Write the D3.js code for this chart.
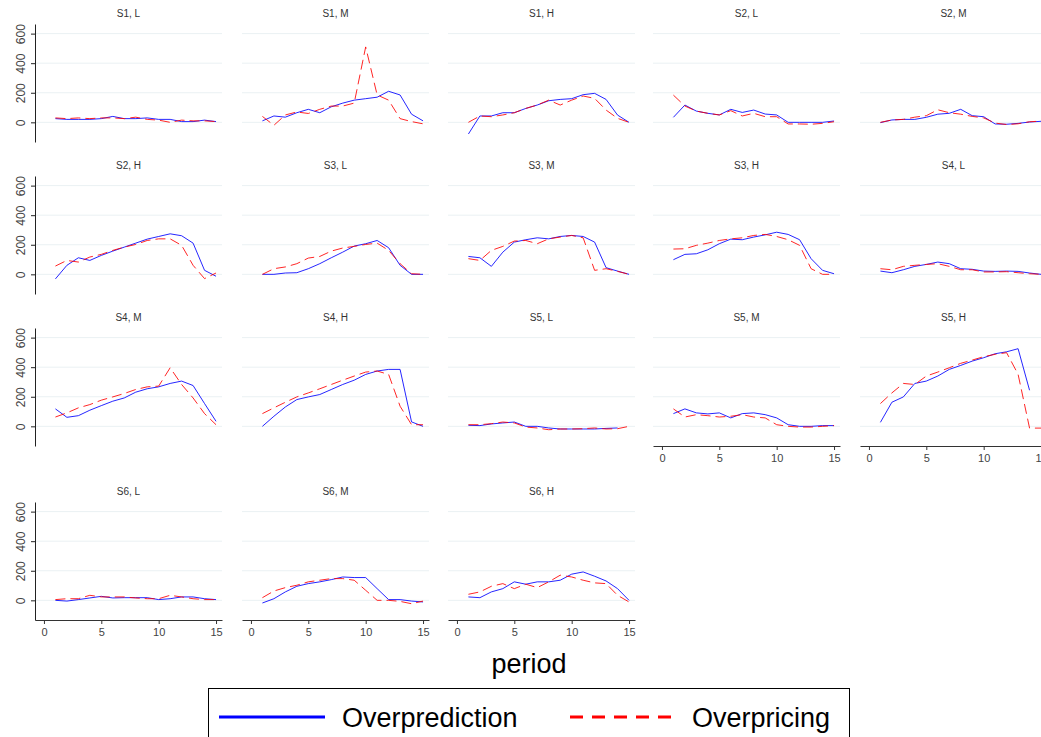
<!DOCTYPE html>
<html>
<head>
<meta charset="utf-8">
<script src="https://cdn.jsdelivr.net/npm/d3@7"></script>
<style>
  body { margin: 0; background: #fff; }
  svg { font-family: "Liberation Sans", Arial, sans-serif; }
</style>
</head>
<body>
<div id="chart"></div>
<script>
// panel labels, in reading order
const panels = ["S1, L", "S1, M", "S1, H", "S2, L", "S2, M",
                "S2, H", "S3, L", "S3, M", "S3, H", "S4, L",
                "S4, M", "S4, H", "S5, L", "S5, M", "S5, H",
                "S6, L", "S6, M", "S6, H"];

const periods = d3.range(1, 16);
const xTicks = [0, 5, 10, 15];
const yTicks = [0, 200, 400, 600];

// Overprediction (blue, solid) per panel
const overprediction = [
  [25, 20, 20, 20, 25, 40, 25, 25, 30, 20, 20, 5, 5, 15, 5],
  [10, 43, 35, 65, 88, 65, 105, 130, 150, 160, 170, 210, 185, 55, 10],
  [-79, 43, 43, 65, 65, 94, 117, 146, 155, 160, 187, 196, 155, 49, 0],
  [34, 117, 76, 61, 50, 88, 67, 83, 56, 50, 0, 0, 0, 0, 9],
  [-2, 16, 20, 20, 34, 55, 61, 88, 45, 38, -11, -13, -7, 2, 7],
  [-31, 61, 112, 94, 128, 157, 184, 211, 238, 256, 274, 261, 211, 27, -13],
  [0, 0, 9, 11, 38, 72, 112, 150, 191, 207, 229, 180, 61, 0, 0],
  [121, 112, 54, 150, 218, 234, 247, 240, 256, 263, 256, 218, 45, 22, 0],
  [99, 135, 139, 166, 207, 238, 234, 252, 267, 285, 270, 234, 106, 27, 4],
  [22, 11, 31, 54, 67, 83, 72, 38, 34, 22, 20, 22, 20, 9, 0],
  [118, 61, 72, 109, 140, 170, 192, 231, 254, 267, 290, 306, 276, 154, 34],
  [0, 68, 131, 181, 199, 215, 249, 283, 312, 351, 374, 385, 385, 30, 0],
  [7, 5, 16, 23, 29, 0, 0, -11, -18, -18, -18, -18, -14, -11, null],
  [86, 118, 91, 84, 91, 57, 86, 91, 79, 57, 11, 0, 0, 5, 5],
  [27, 163, 199, 290, 306, 340, 385, 412, 441, 464, 491, 504, 525, 244, null],
  [0, -5, 5, 16, 27, 16, 18, 18, 18, 5, 11, 23, 23, 11, 5],
  [-18, 11, 57, 95, 113, 125, 140, 158, 154, 154, 79, 5, 5, -5, -11],
  [23, 18, 57, 79, 125, 109, 125, 125, 136, 177, 192, 163, 131, 79, 0]
];

// Overpricing (red, dashed) per panel
const overpricing = [
  [30, 25, 30, 25, 30, 30, 25, 35, 20, 15, 0, 15, 10, 10, 5],
  [40, -20, 50, 70, 60, 88, 110, 110, 130, 510, 185, 150, 25, 5, -10],
  [0, 43, 38, 50, 65, 94, 117, 150, 117, 150, 178, 162, 83, 27, 0],
  [184, 110, 76, 61, 50, 79, 43, 61, 38, 38, -11, -11, -13, -7, 4],
  [0, 16, 20, 35, 45, 85, 65, 55, 40, 30, -5, -15, -10, 4, 8],
  [56, 94, 83, 117, 135, 162, 184, 202, 229, 240, 240, 196, 61, -29, 9],
  [0, 38, 50, 72, 110, 121, 157, 178, 189, 202, 211, 162, 72, 4, 0],
  [106, 94, 162, 189, 225, 229, 207, 240, 252, 263, 247, 27, 38, 20, 0],
  [171, 173, 196, 211, 229, 240, 247, 263, 270, 256, 234, 196, 38, 0, 0],
  [38, 31, 54, 61, 67, 72, 54, 31, 31, 16, 16, 18, 11, 4, 0],
  [63, 91, 125, 147, 177, 199, 222, 249, 267, 272, 396, 283, 192, 86, 11],
  [86, 125, 163, 199, 226, 254, 283, 312, 340, 367, 374, 351, 136, 11, 11],
  [11, 11, 18, 29, 23, -5, -11, -23, -18, -18, -16, -11, -18, -16, 0],
  [118, 63, 79, 72, 63, 68, 79, 63, 57, 11, 0, -5, -5, 0, 5],
  [154, 226, 290, 283, 340, 367, 396, 426, 448, 471, 487, 498, 352, -12, -12],
  [5, 11, 11, 34, 23, 23, 23, 16, 11, 11, 34, 23, 11, 5, 5],
  [18, 63, 86, 102, 125, 136, 147, 147, 136, 68, 0, 0, -7, -23, -5],
  [41, 57, 95, 113, 79, 109, 86, 125, 170, 158, 136, 118, 113, 34, -11]
];

const width = 1041, height = 737;
const colX = [35, 242, 448, 653, 860];
const rowTop = [24, 176, 328, 502];
const plotW = 187, plotH = 118;

const svg = d3.select("#chart").append("svg")
  .attr("width", width)
  .attr("height", height);

const x = d3.scaleLinear().domain([-0.78, 15.52]).range([0, plotW]);
const y = d3.scaleLinear().domain([-133, 665]).range([plotH, 0]);

const line = d3.line()
  .defined(d => d[1] != null)
  .x(d => x(d[0]))
  .y(d => y(d[1]));

panels.forEach((name, i) => {
  const col = i % 5, row = Math.floor(i / 5);
  const g = svg.append("g").attr("transform", `translate(${colX[col]},${rowTop[row]})`);

  // gridlines
  g.selectAll(".grid").data(yTicks).join("line")
    .attr("x1", 0).attr("x2", plotW)
    .attr("y1", d => y(d)).attr("y2", d => y(d))
    .attr("stroke", "#eaf1f3").attr("stroke-width", 1);

  g.append("text")
    .attr("x", plotW / 2).attr("y", -7)
    .attr("text-anchor", "middle")
    .attr("font-size", 10).attr("fill", "#333")
    .text(name);

  // y axis on first column
  if (col === 0) {
    const ya = g.append("g").call(d3.axisLeft(y).tickValues(yTicks).tickSize(4).tickSizeOuter(0));
    ya.select(".domain").attr("stroke", "#222");
    ya.selectAll(".tick line").attr("stroke", "#222");
    ya.selectAll(".tick text")
      .attr("font-size", 12).attr("fill", "#444")
      .attr("font-family", "Liberation Sans, Arial, sans-serif")
      .attr("transform", "rotate(-90)")
      .attr("x", 0).attr("y", -10)
      .attr("dy", 0)
      .attr("text-anchor", "middle");
  }

  // x axis where no panel sits below
  const hasBelow = i + 5 < panels.length;
  if (!hasBelow) {
    const xa = g.append("g").attr("transform", `translate(0,${plotH})`)
      .call(d3.axisBottom(x).tickValues(xTicks).tickSize(4).tickSizeOuter(0));
    xa.select(".domain").attr("stroke", "#333");
    xa.selectAll(".tick line").attr("stroke", "#333");
    xa.selectAll(".tick text")
      .attr("font-size", 11).attr("fill", "#444")
      .attr("font-family", "Liberation Sans, Arial, sans-serif")
      .attr("y", 8);
  }

  const blue = periods.map((p, k) => [p, overprediction[i][k]]);
  const red = periods.map((p, k) => [p, overpricing[i][k]]);

  g.append("path").datum(blue)
    .attr("d", line)
    .attr("fill", "none")
    .attr("stroke", "#0000ff").attr("stroke-width", 1)
    .attr("stroke-opacity", 0.85);

  g.append("path").datum(red)
    .attr("d", line)
    .attr("fill", "none")
    .attr("stroke", "#ff0000").attr("stroke-width", 1)
    .attr("stroke-dasharray", "10,5")
    .attr("stroke-opacity", 0.85);
});

// x title
svg.append("text")
  .attr("x", 529).attr("y", 673)
  .attr("text-anchor", "middle")
  .attr("font-size", 27).attr("fill", "#000")
  .text("period");

// legend
const leg = svg.append("g");
leg.append("rect")
  .attr("x", 208.5).attr("y", 688.5)
  .attr("width", 641).attr("height", 70)
  .attr("fill", "none").attr("stroke", "#000").attr("stroke-width", 1);

const legendItems = [
  { label: "Overprediction", color: "#0000ff", dash: null, x1: 219, x2: 325, tx: 342 },
  { label: "Overpricing", color: "#ff0000", dash: "13,9", x1: 570, x2: 676, tx: 692 }
];
legendItems.forEach(it => {
  leg.append("line")
    .attr("x1", it.x1).attr("x2", it.x2)
    .attr("y1", 717).attr("y2", 717)
    .attr("stroke", it.color).attr("stroke-width", 3)
    .attr("stroke-dasharray", it.dash);
  leg.append("text")
    .attr("x", it.tx).attr("y", 727)
    .attr("font-size", 27).attr("fill", "#000")
    .text(it.label);
});
</script>
</body>
</html>
